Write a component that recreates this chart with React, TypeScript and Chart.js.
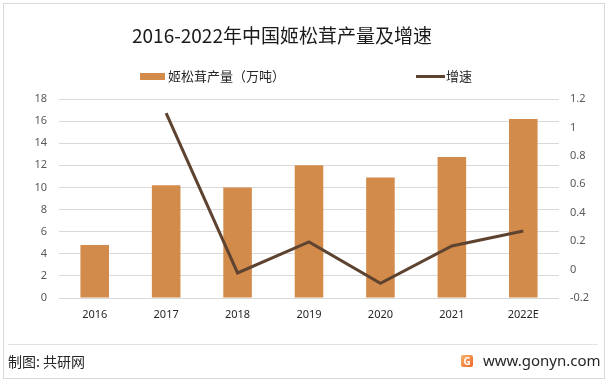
import React, { useEffect, useRef } from "react";
import { Chart, registerables } from "chart.js";

Chart.register(...registerables);

const categories = ["2016", "2017", "2018", "2019", "2020", "2021", "2022E"];
const production = [4.8, 10.2, 10.0, 12.0, 10.9, 12.75, 16.2];
const growth = [null, 1.1, -0.024, 0.194, -0.096, 0.166, 0.272];
const titleText = "2016-2022年中国姬松茸产量及增速";
const barLabel = "姬松茸产量（万吨）";
const lineLabel = "增速";
const sourceText = "制图: 共研网";
const siteText = "www.gonyn.com";

const BAR_COLOR = "#d38b4c";
const LINE_COLOR = "#5e4330";
const CJK = '"Noto Sans CJK SC", "Noto Sans", sans-serif';
const NUM = '"Noto Sans", "Open Sans", sans-serif';

export default function App() {
  const ref = useRef<HTMLCanvasElement | null>(null);

  useEffect(() => {
    document.body.style.margin = "0";
    const ctx = ref.current!.getContext("2d")!;
    const chart = new Chart(ctx, {
      type: "bar",
      data: {
        labels: categories,
        datasets: [
          {
            type: "line",
            label: lineLabel,
            data: growth as any,
            yAxisID: "y1",
            borderColor: LINE_COLOR,
            backgroundColor: LINE_COLOR,
            borderWidth: 3,
            pointRadius: 0,
            tension: 0,
            order: 0,
          } as any,
          {
            type: "bar",
            label: barLabel,
            data: production,
            yAxisID: "y",
            backgroundColor: BAR_COLOR,
            barPercentage: 0.4,
            categoryPercentage: 1.0,
            order: 1,
          },
        ],
      },
      options: {
        animation: false,
        responsive: false,
        maintainAspectRatio: false,
        layout: { padding: { top: 99, left: 0, right: 0, bottom: 0 } },
        plugins: {
          legend: { display: false },
          title: { display: false },
          tooltip: { enabled: false },
        },
        scales: {
          x: {
            grid: { display: false, drawTicks: false },
            border: { display: false },
            ticks: {
              color: "#262626",
              font: { family: NUM, size: 11 },
              padding: 10,
              maxRotation: 0,
            },
            afterFit: (s: any) => {
              s.height = 86;
            },
          },
          y: {
            position: "left",
            min: 0,
            max: 18,
            ticks: {
              stepSize: 2,
              color: "#595959",
              font: { family: NUM, size: 11 },
              padding: 12,
            },
            grid: { color: "#d9d9d9", lineWidth: 1, drawTicks: false },
            border: { display: false },
            afterFit: (s: any) => {
              s.width = 59;
            },
          },
          y1: {
            position: "right",
            min: -0.2,
            max: 1.2,
            ticks: {
              stepSize: 0.2,
              color: "#595959",
              font: { family: NUM, size: 11 },
              padding: 11,
              callback: (v: any) => String(Math.round(Number(v) * 10) / 10),
            },
            grid: { display: false, drawTicks: false },
            border: { display: false },
            afterFit: (s: any) => {
              s.width = 52;
            },
          },
        },
      },
    });
    return () => chart.destroy();
  }, []);

  return (
    <div
      style={{
        position: "relative",
        width: 611,
        height: 384,
        background: "#fff",
        overflow: "hidden",
        fontFamily: CJK,
      }}
    >
      <div
        style={{
          position: "absolute",
          left: 3,
          top: 3,
          width: 602,
          height: 376,
          border: "1px solid #d9d9d9",
          boxSizing: "border-box",
        }}
      />
      <canvas
        ref={ref}
        width={611}
        height={384}
        style={{ position: "absolute", left: 0, top: 0 }}
      />
      <div
        style={{
          position: "absolute",
          left: 132,
          top: 22,
          fontSize: 19,
          color: "#1a1a1a",
          whiteSpace: "nowrap",
          lineHeight: "26px",
        }}
      >
        {titleText}
      </div>
      <div
        style={{
          position: "absolute",
          left: 140,
          top: 73,
          width: 25,
          height: 7,
          background: BAR_COLOR,
        }}
      />
      <div
        style={{
          position: "absolute",
          left: 168,
          top: 67,
          fontSize: 13,
          color: "#262626",
          whiteSpace: "nowrap",
          lineHeight: "18px",
        }}
      >
        {barLabel}
      </div>
      <div
        style={{
          position: "absolute",
          left: 416,
          top: 75,
          width: 29,
          height: 3,
          background: LINE_COLOR,
        }}
      />
      <div
        style={{
          position: "absolute",
          left: 446,
          top: 67,
          fontSize: 13,
          color: "#262626",
          whiteSpace: "nowrap",
          lineHeight: "18px",
        }}
      >
        {lineLabel}
      </div>
      <div
        style={{
          position: "absolute",
          left: 8,
          top: 344,
          width: 590,
          height: 1,
          background: "#e3e3e3",
        }}
      />
      <div
        style={{
          position: "absolute",
          left: 8,
          top: 351,
          fontSize: 14,
          color: "#262626",
          whiteSpace: "nowrap",
          lineHeight: "20px",
        }}
      >
        {sourceText}
      </div>
      <div
        style={{
          position: "absolute",
          left: 461,
          top: 355,
          width: 12,
          height: 12,
          borderRadius: 2,
          background: "linear-gradient(135deg, #f7b267, #f0662a)",
          color: "#fff",
          fontSize: 10,
          fontWeight: 700,
          lineHeight: "12px",
          textAlign: "center",
          fontFamily: NUM,
        }}
      >
        G
      </div>
      <div
        style={{
          position: "absolute",
          left: 483,
          top: 350,
          fontSize: 15,
          color: "#262626",
          whiteSpace: "nowrap",
          lineHeight: "20px",
          fontFamily: NUM,
        }}
      >
        {siteText}
      </div>
    </div>
  );
}
